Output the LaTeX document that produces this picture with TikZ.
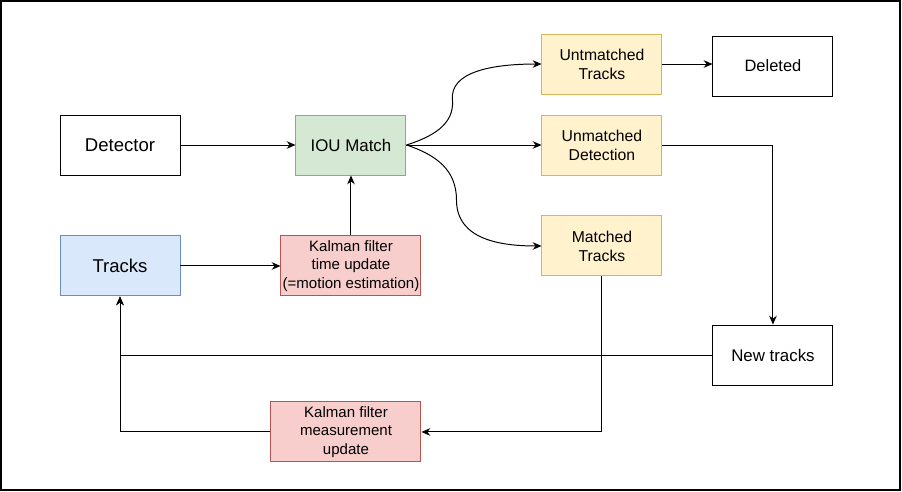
\documentclass[tikz,border=0pt]{standalone}
\usepackage{fontspec}
\setmainfont{Liberation Sans}
\usepackage{tikz}
\usepackage{xcolor}
\usetikzlibrary{arrows.meta,positioning}
\definecolor{softg}{HTML}{D5E8D4}
\definecolor{lineg}{HTML}{82B366}
\definecolor{softb}{HTML}{DAE8FC}
\definecolor{lineb}{HTML}{6C8EBF}
\definecolor{softr}{HTML}{F8CECC}
\definecolor{liner}{HTML}{B85450}
\definecolor{softy}{HTML}{FFF2CC}
\definecolor{liney}{HTML}{D6B656}

\begin{document}
\begin{tikzpicture}[
    line width=0.7pt,
    plainbox/.style={draw, fill=white, minimum width=3cm, minimum height=1.5cm, inner sep=0pt, align=center},
    matchbox/.style={draw=lineg, fill=softg, minimum width=2.75cm, minimum height=1.5cm, inner sep=0pt, align=center, font=\fontsize{12}{14}\selectfont},
    trackbox/.style={draw=lineb, fill=softb, minimum width=3cm, minimum height=1.5cm, inner sep=0pt, align=center, font=\fontsize{13.2}{15}\selectfont},
    kalmanbox/.style={draw=liner, fill=softr, minimum height=1.5cm, inner sep=0pt, align=center, font=\fontsize{10.7}{13.2}\selectfont},
    resultbox/.style={draw=liney, fill=softy, minimum width=3cm, minimum height=1.5cm, inner sep=0pt, align=center, font=\fontsize{11.2}{13.6}\selectfont},
    line/.style={-{Stealth[length=2.2mm, width=1.9mm]}, line width=0.7pt}
  ]
    % frame of the whole picture
    \useasboundingbox (0,0) rectangle (22.55,-12.3);
    \draw[line width=1pt] (0.03,-0.03) rectangle (22.5,-12.25);

    \node[plainbox, font=\fontsize{13.2}{15}\selectfont] (detector) at (3,-3.625) {Detector};
    \node[matchbox, right=2.875cm of detector] (iou) {IOU Match};
    \node[trackbox, below=1.5cm of detector] (tracks) {Tracks};
    \node[kalmanbox, minimum width=3.5cm, below=1.5cm of iou] (ktime) {Kalman filter\\time update\\(=motion estimation)};
    \node[resultbox, right=3.375cm of iou] (udet) {Unmatched\\Detection};
    \node[resultbox, above=0.5cm of udet] (utrk) {Untmatched\\Tracks};
    \node[resultbox, below=1cm of udet] (matched) {Matched\\Tracks};
    \node[plainbox, font=\fontsize{11.7}{14}\selectfont, right=1.25cm of utrk, yshift=-0.05cm] (deleted) {Deleted};
    \node[plainbox, font=\fontsize{12}{14}\selectfont, below=5.7cm of deleted] (newtr) {New tracks};
    \node[kalmanbox, minimum width=3.75cm, below=2.625cm of ktime, xshift=-0.125cm] (kmeas) {Kalman filter\\measurement\\update};

    \coordinate (bendU) at ([shift={(1.15,1.125)}]iou.east);
    \coordinate (bendD) at ([shift={(1.25,-1.375)}]iou.east);

    \draw[line] (detector) -- (iou);
    \draw[line] (tracks) -- (ktime);
    \draw[line] (ktime) -- (iou);
    \draw[line] (iou.east) .. controls +(0.625,0.2) and +(0.05,-0.625) .. (bendU)
        .. controls +(-0.075,0.7) and +(-1.25,0) .. (utrk.west);
    \draw[line] (iou) -- (udet);
    \draw[line] (iou.east) .. controls +(0.75,-0.25) and +(0,0.75) .. (bendD)
        .. controls +(0,-1) and +(-1,0) .. (matched.west);
    \draw[line] (utrk) -- (utrk -| deleted.west);
    \draw[line] (udet.east) -| (newtr.north);
    \draw[line] (matched.south) |- (kmeas.east);
    \draw[line] (kmeas.west) -| (tracks.south);
    \draw[line] (newtr.west) -| (tracks.south);
  \end{tikzpicture}
\end{document}
